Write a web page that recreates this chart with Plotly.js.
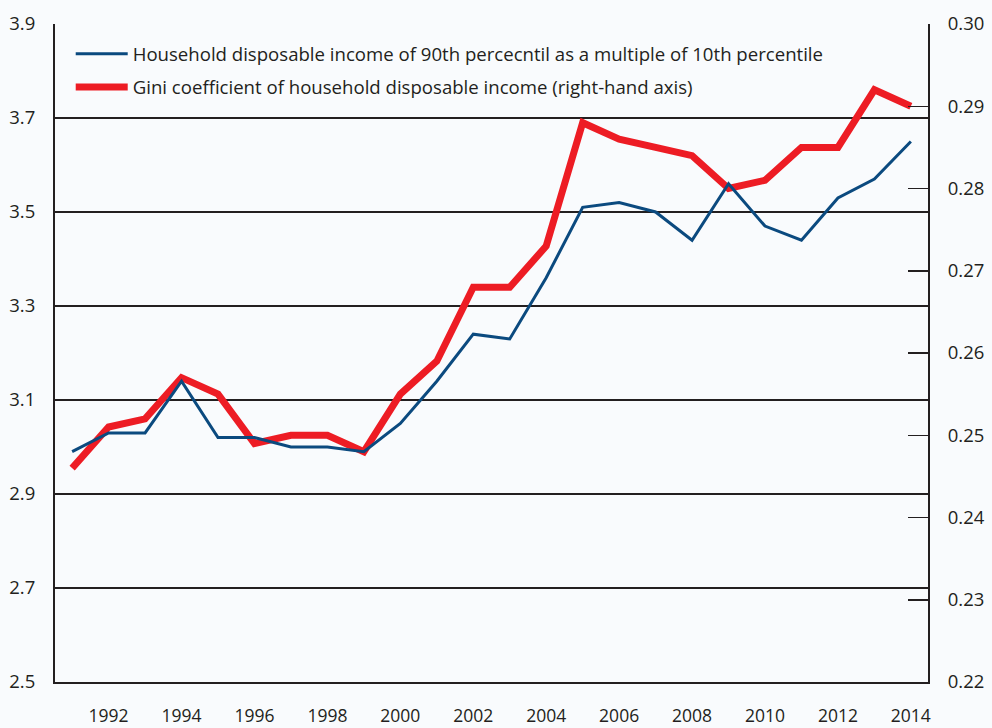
<!DOCTYPE html>
<html>
<head>
<meta charset="utf-8">
<script src="https://cdn.plot.ly/plotly-3.0.1.min.js"></script>
<style>
html,body{margin:0;padding:0;background:#f9fbfd;}
#chart{width:992px;height:728px;}
</style>
</head>
<body>
<div id="chart"></div>
<script>
var years = [1991,1992,1993,1994,1995,1996,1997,1998,1999,2000,2001,2002,2003,2004,2005,2006,2007,2008,2009,2010,2011,2012,2013,2014];
var ratio9010 = [2.99,3.03,3.03,3.14,3.02,3.02,3.00,3.00,2.99,3.05,3.14,3.24,3.23,3.36,3.51,3.52,3.50,3.44,3.56,3.47,3.44,3.53,3.57,3.65];
var gini = [0.246,0.251,0.252,0.257,0.255,0.249,0.250,0.250,0.248,0.255,0.259,0.268,0.268,0.273,0.288,0.286,0.285,0.284,0.280,0.281,0.285,0.285,0.292,0.290];
var xTicks = [1992,1994,1996,1998,2000,2002,2004,2006,2008,2010,2012,2014];
var seriesNames = [
  'Household disposable income of 90th percecntil as a multiple of 10th percentile',
  'Gini coefficient of household disposable income (right-hand axis)'
];

var ink = '#231f20';
var fontFam = '"Open Sans", "Noto Sans", sans-serif';

var traces = [
  {
    x: years, y: gini, type: 'scatter', mode: 'lines',
    name: seriesNames[1], yaxis: 'y', legendrank: 2, legendgroup: 'g2',
    line: {color: '#ed1c24', width: 7}
  },
  {
    x: years, y: ratio9010, type: 'scatter', mode: 'lines',
    name: seriesNames[0], yaxis: 'y2', legendrank: 1, legendgroup: 'g1',
    line: {color: '#0b4a7f', width: 3}
  }
];

var layout = {
  width: 992, height: 728,
  paper_bgcolor: '#f9fbfd', plot_bgcolor: '#f9fbfd',
  margin: {l: 55, r: 64, t: 24, b: 46},
  font: {family: fontFam, size: 18, color: ink},
  showlegend: true,
  legend: {
    x: 0.018, y: 0.983, xanchor: 'left', yanchor: 'top',
    bgcolor: 'rgba(0,0,0,0)', borderwidth: 0,
    font: {family: fontFam, size: 18.6, color: ink},
    traceorder: 'grouped', tracegroupgap: 6, itemwidth: 52
  },
  xaxis: {
    range: [1990.53, 2014.47],
    tickvals: xTicks,
    ticks: '', showgrid: false, zeroline: false,
    showline: true, linecolor: ink, linewidth: 2,
    ticklabelstandoff: 17,
    tickfont: {size: 17.5, color: ink}
  },
  yaxis: {
    side: 'right',
    range: [0.22, 0.30], dtick: 0.01, tick0: 0.22, tickformat: '.2f',
    ticks: 'inside', ticklen: 20, tickwidth: 1.5, tickcolor: ink,
    showline: true, linecolor: ink, linewidth: 2,
    showgrid: false, zeroline: false,
    ticklabelstandoff: 14,
    tickfont: {size: 18.5, color: ink}
  },
  yaxis2: {
    side: 'left', overlaying: 'y',
    range: [2.5, 3.9], dtick: 0.2, tick0: 2.5, tickformat: '.1f',
    ticks: '', showline: true, linecolor: ink, linewidth: 2,
    showgrid: true, gridcolor: ink, gridwidth: 1.3,
    zeroline: false,
    ticklabelstandoff: 14,
    tickfont: {size: 18.5, color: ink}
  }
};

Plotly.newPlot('chart', traces, layout, {displayModeBar: false, staticPlot: true});
</script>
</body>
</html>
